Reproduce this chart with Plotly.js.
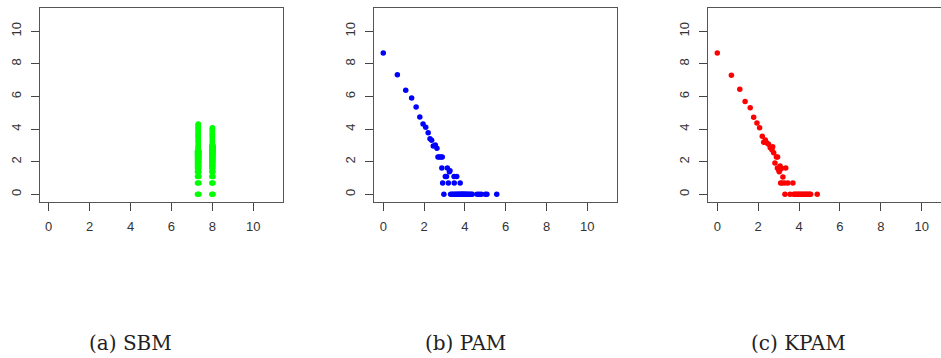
<!DOCTYPE html>
<html>
<head>
<meta charset="utf-8">
<script src="https://cdn.plot.ly/plotly-3.0.1.min.js"></script>
<style>
  html, body { margin: 0; padding: 0; background: #fff; overflow: hidden; width: 941px; height: 358px; }
  #chart { width: 960px; height: 358px; }
</style>
</head>
<body>
<div id="chart"></div>
<script>
// ---- Data ----
const tickVals = [0, 2, 4, 6, 8, 10];
const captions = ["(a) SBM", "(b) PAM", "(c) KPAM"];

// (a) SBM - green
const sbmX = [
  7.27,7.34,7.27,7.34,7.27,7.34,7.27,7.34,7.27,7.34,7.27,7.34,7.27,7.34,7.27,7.34,7.27,7.34,7.27,7.34,7.27,7.34,7.27,7.34,7.27,7.34,7.27,7.34,
  7.31,7.31,7.31,7.31,7.31,7.31,7.31,7.31,7.31,7.31,7.31,7.31,7.31,7.31,7.31,7.31,7.31,7.31,7.31,7.31,7.31,7.31,7.31,7.31,7.31,7.31,7.31,
  7.97,8.03,7.97,8.03,7.97,8.03,7.97,8.03,7.97,8.03,7.97,8.03,7.97,8.03,7.97,8.03,7.97,8.03,7.97,8.03,7.97,8.03,7.97,8.03,7.97,8.03,7.97,8.03,7.97,8.03,7.97,8.03,7.97,8.03,7.97,8.03,7.97,8.03,7.97,8.03,
  8.0,8.0,8.0,8.0,8.0,8.0,8.0,8.0,8.0,8.0,8.0,8.0,8.0,8.0,8.0,8.0,8.0
];
const sbmY = [
  0,0,0.69,0.69,1.1,1.1,1.39,1.39,1.61,1.61,1.79,1.79,1.95,1.95,2.08,2.08,2.2,2.2,2.3,2.3,2.4,2.4,2.48,2.48,2.56,2.56,2.64,2.64,
  2.71,2.77,2.83,2.89,2.94,3.0,3.09,3.18,3.26,3.33,3.4,3.47,3.53,3.58,3.64,3.69,3.76,3.83,3.89,3.95,4.01,4.06,4.11,4.17,4.23,4.28,4.32,
  0,0,0.69,0.69,1.1,1.1,1.39,1.39,1.61,1.61,1.79,1.79,1.95,1.95,2.08,2.08,2.2,2.2,2.3,2.3,2.4,2.4,2.48,2.48,2.56,2.56,2.64,2.64,2.71,2.71,2.77,2.77,2.83,2.83,2.89,2.89,2.94,2.94,3.0,3.0,
  3.09,3.18,3.26,3.33,3.4,3.47,3.53,3.58,3.64,3.69,3.76,3.83,3.89,3.95,4.01,4.06,4.09
];

// (b) PAM - blue
const pamX = [
  0, 0.69, 1.10, 1.39, 1.61, 1.79, 1.95, 2.08, 2.2, 2.29, 2.37, 2.45, 2.55, 2.63,
  2.68, 2.75, 2.83, 2.89,
  2.87, 3.14, 3.24, 3.27,
  3.04, 3.1, 3.47, 3.6,
  2.91, 3.19, 3.48, 3.77,
  2.97, 3.3, 3.37, 3.43, 3.5, 3.56, 3.61, 3.66, 3.71, 3.76, 3.81, 3.85, 3.89, 3.93, 3.97,
  4.01, 4.06, 4.11, 4.17, 4.23, 4.3, 4.36, 4.6, 4.7, 4.8, 5.0, 5.08, 5.56
];
const pamY = [
  8.67, 7.33, 6.38, 5.91, 5.36, 4.74, 4.31, 4.11, 3.78, 3.41, 3.31, 2.97, 3.02, 2.82,
  2.29, 2.29, 2.29, 2.29,
  1.61, 1.61, 1.39, 1.45,
  1.1, 1.1, 1.1, 1.1,
  0.69, 0.69, 0.69, 0.69,
  0, 0, 0, 0, 0, 0, 0, 0, 0, 0, 0, 0, 0, 0, 0,
  0, 0, 0, 0, 0, 0, 0, 0, 0, 0, 0, 0, 0
];

// (c) KPAM - red
const kpamX = [
  0, 0.69, 1.1, 1.36, 1.61, 1.78, 1.94, 2.07, 2.2, 2.27, 2.35, 2.43, 2.51, 2.59, 2.71, 2.68, 2.76,
  2.89, 2.95, 2.82, 2.94, 3.07, 3.0, 3.03, 3.15, 3.35, 3.07,
  3.21,
  3.1, 3.18, 3.3, 3.45, 3.7,
  3.31, 3.56, 3.74, 3.8, 3.86, 3.92, 3.98, 4.04, 4.1, 4.16, 4.22, 4.28, 4.34, 4.4, 4.46, 4.52, 4.57, 4.89
];
const kpamY = [
  8.67, 7.3, 6.44, 5.7, 5.31, 4.72, 4.37, 4.09, 3.56, 3.19, 3.33, 3.15, 3.07, 2.86, 2.92, 2.72, 2.55,
  2.29, 2.29, 1.92, 1.61, 1.74, 1.5, 1.39, 1.6, 1.61, 1.5,
  1.06,
  0.69, 0.69, 0.69, 0.69, 0.69,
  0, 0, 0, 0, 0, 0, 0, 0, 0, 0, 0, 0, 0, 0, 0, 0, 0, 0
];

// ---- Layout ----
const W = 960, H = 358;
const xDomPx = [[39.7, 282.8], [374.3, 616.7], [708.3, 951.1]];
const yDomPx = [7.8, 201.5];
const captionX = [130, 465, 798];
const captionY = 343;

function mk(x, y, color, i) {
  return {
    type: 'scatter', mode: 'markers', x: x, y: y,
    xaxis: i === 0 ? 'x' : 'x' + (i + 1),
    yaxis: i === 0 ? 'y' : 'y' + (i + 1),
    marker: { color: color, size: 5.5, line: { width: 0 } },
    hoverinfo: 'skip', showlegend: false
  };
}

const traces = [
  mk(sbmX, sbmY, '#00FF00', 0),
  mk(pamX, pamY, '#0000FF', 1),
  mk(kpamX, kpamY, '#FF0000', 2)
];

const tickFont = { family: 'Liberation Sans, Arial, sans-serif', size: 13, color: '#333' };
function xa(i) {
  return {
    domain: [xDomPx[i][0] / W, xDomPx[i][1] / W],
    anchor: i === 0 ? 'y' : 'y' + (i + 1),
    range: [-0.44, 11.44], tickmode: 'array', tickvals: tickVals,
    ticks: 'outside', ticklen: 8, tickcolor: '#444', tickwidth: 1,
    showline: true, linecolor: '#555', linewidth: 1, mirror: true,
    showgrid: false, zeroline: false, tickfont: tickFont, ticklabelstandoff: 5,
    fixedrange: true
  };
}
function ya(i) {
  return {
    domain: [1 - yDomPx[1] / H, 1 - yDomPx[0] / H],
    anchor: i === 0 ? 'x' : 'x' + (i + 1),
    range: [-0.44, 11.44], tickmode: 'array', tickvals: tickVals,
    ticks: 'outside', ticklen: 8, tickcolor: '#444', tickwidth: 1,
    showline: true, linecolor: '#555', linewidth: 1, mirror: true,
    showgrid: false, zeroline: false, tickfont: tickFont, tickangle: -90,
    ticklabelstandoff: 5, fixedrange: true
  };
}

const layout = {
  width: W, height: H,
  margin: { l: 0, r: 0, t: 0, b: 0 },
  paper_bgcolor: '#fff', plot_bgcolor: '#fff',
  showlegend: false,
  xaxis: xa(0), yaxis: ya(0),
  xaxis2: xa(1), yaxis2: ya(1),
  xaxis3: xa(2), yaxis3: ya(2),
  annotations: captions.map((t, i) => ({
    text: t, xref: 'paper', yref: 'paper',
    x: captionX[i] / W, y: 1 - captionY / H,
    xanchor: 'center', yanchor: 'middle', showarrow: false,
    font: { family: 'DejaVu Serif, serif', size: 20, color: '#222' }
  }))
};

Plotly.newPlot('chart', traces, layout, { staticPlot: true, displayModeBar: false });
</script>
</body>
</html>
